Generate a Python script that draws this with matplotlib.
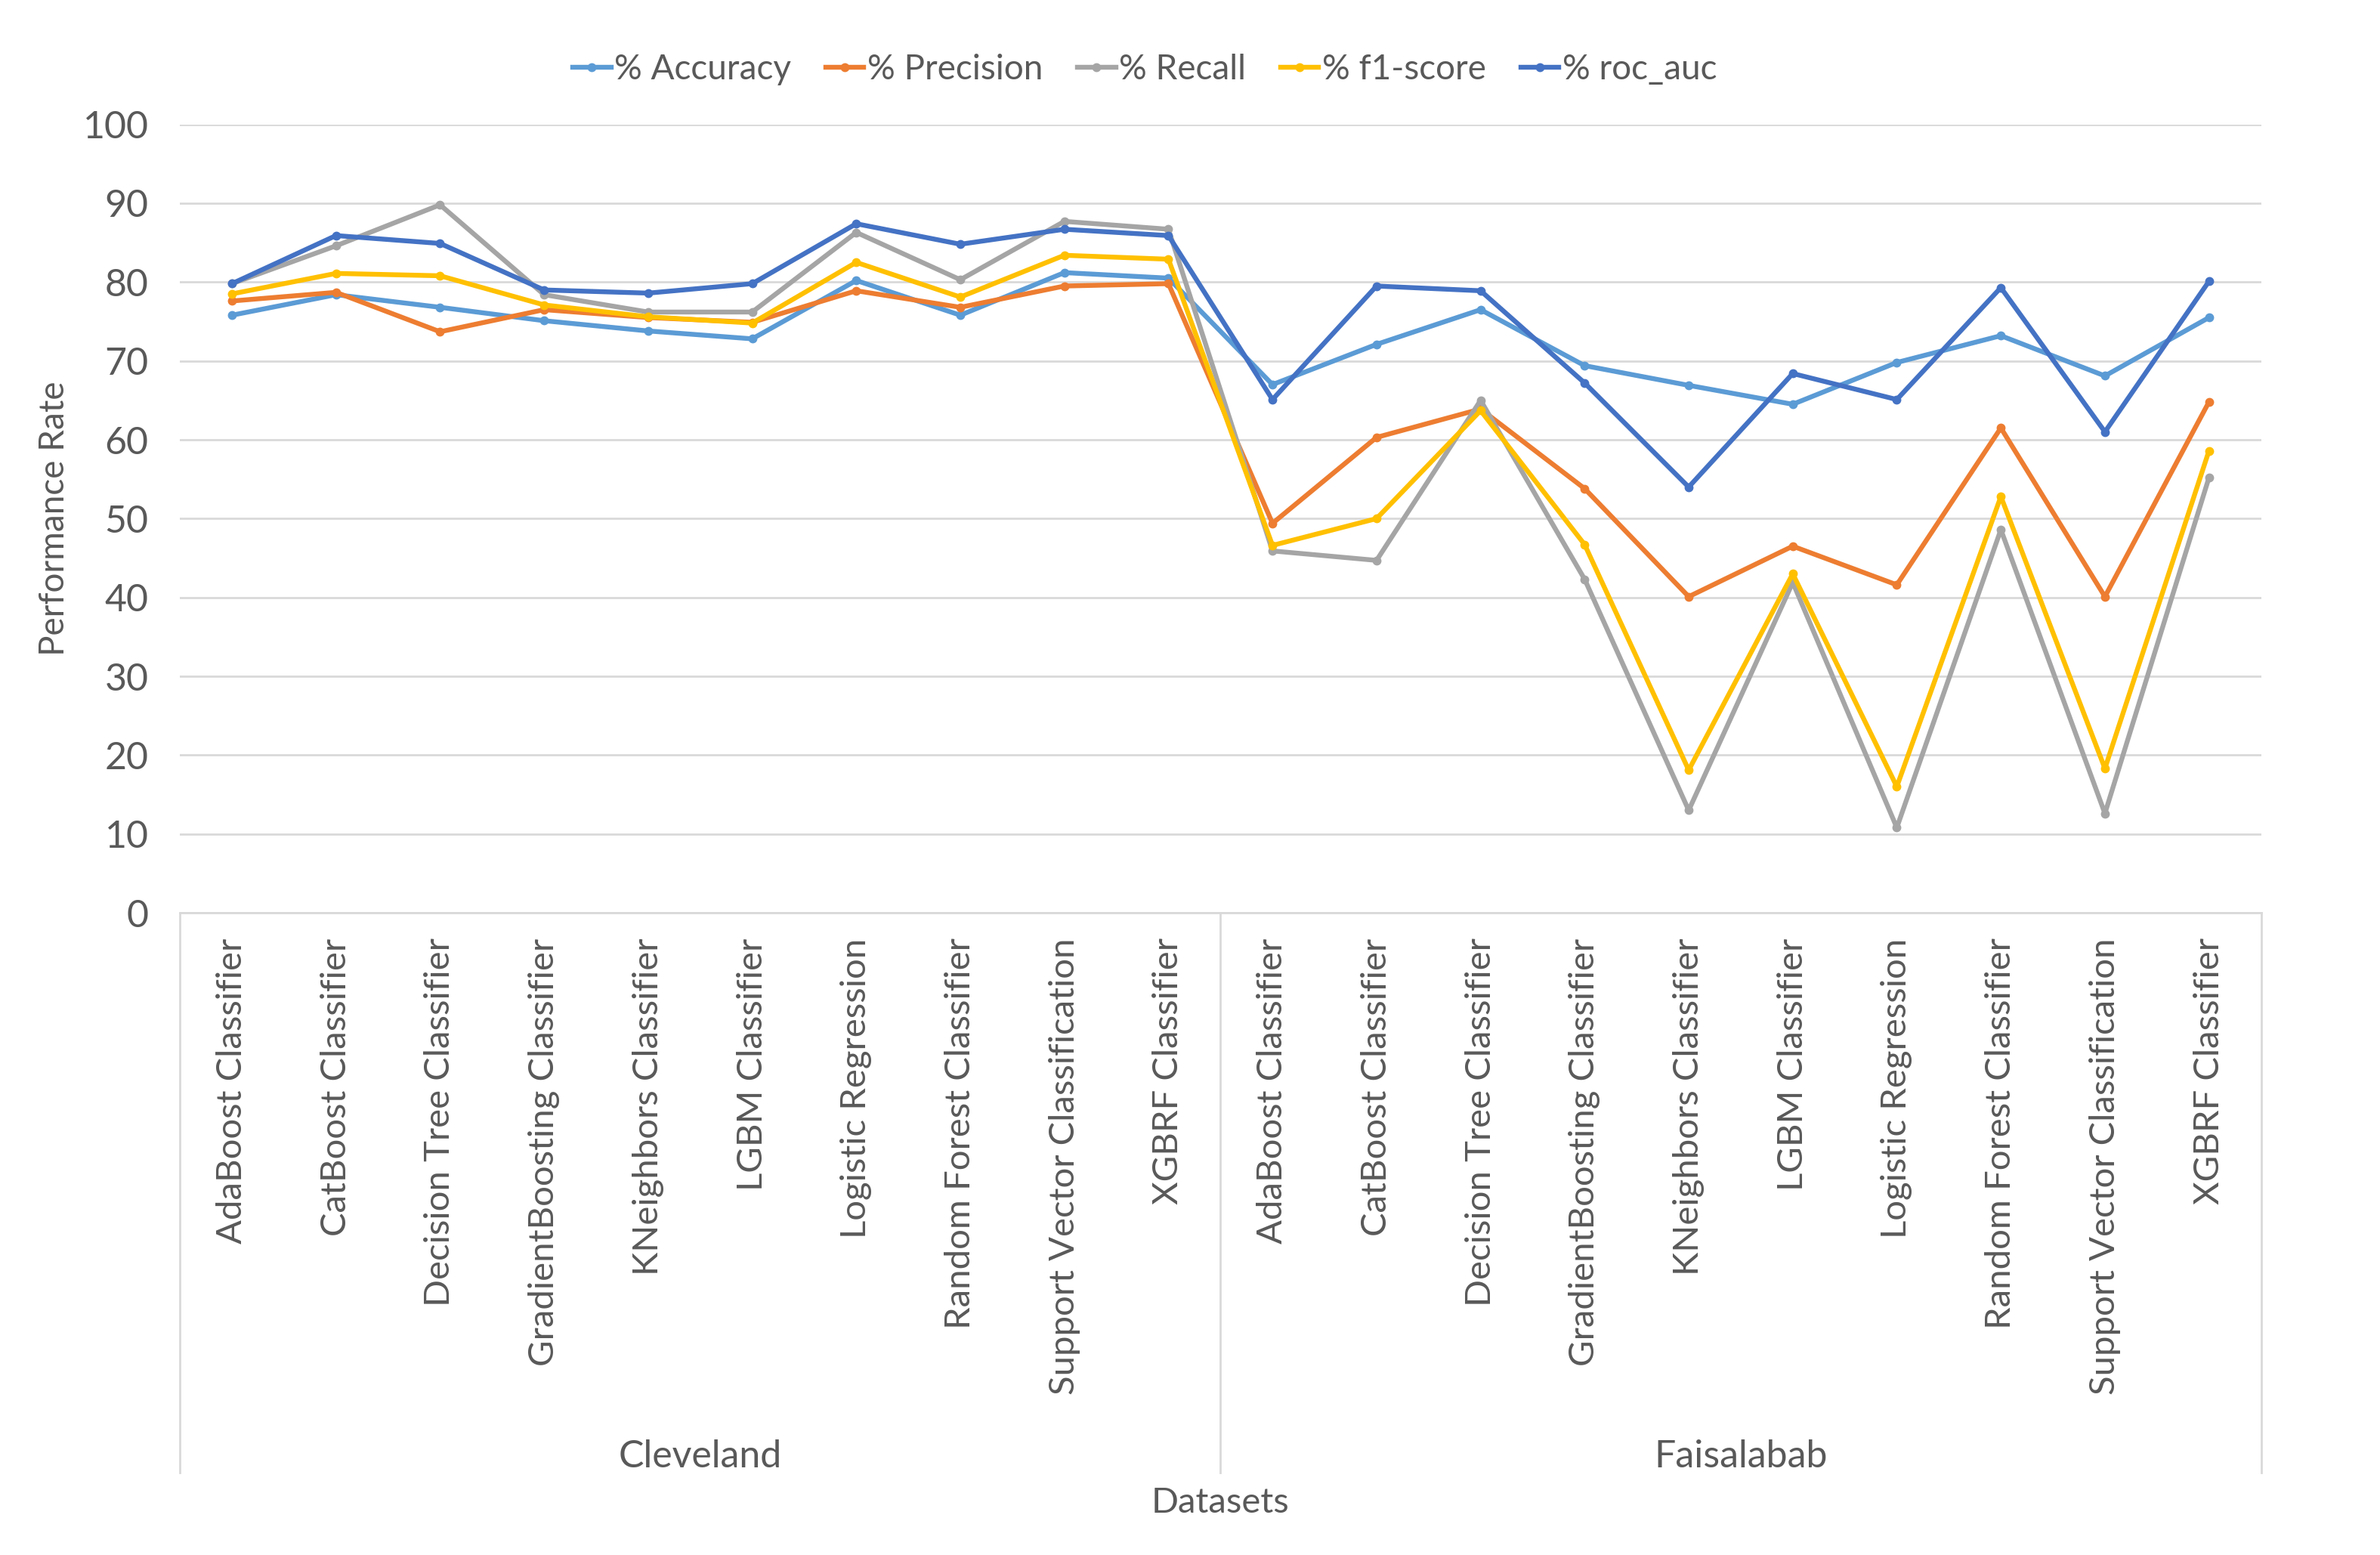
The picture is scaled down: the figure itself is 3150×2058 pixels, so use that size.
import matplotlib
matplotlib.use("Agg")
import matplotlib.pyplot as plt

plt.rcParams["font.family"] = ["Lato", "DejaVu Sans"]

models = [
    "AdaBoost Classifier", "CatBoost Classifier", "Decision Tree Classifier",
    "GradientBoosting Classifier", "KNeighbors Classifier", "LGBM Classifier",
    "Logistic Regression", "Random Forest Classifier",
    "Support Vector Classification", "XGBRF Classifier",
]
datasets = ["Cleveland", "Faisalabab"]
categories = models + models

accuracy = [75.8, 78.4, 76.8, 75.1, 73.8, 72.8, 80.2, 75.8, 81.2, 80.5,
            67.0, 72.1, 76.5, 69.4, 66.9, 64.5, 69.8, 73.2, 68.1, 75.5]
precision = [77.6, 78.7, 73.7, 76.5, 75.5, 74.9, 78.9, 76.8, 79.5, 79.8,
             49.4, 60.3, 63.9, 53.8, 40.1, 46.5, 41.6, 61.5, 40.1, 64.8]
recall = [79.8, 84.6, 89.8, 78.4, 76.2, 76.2, 86.3, 80.3, 87.7, 86.7,
          45.9, 44.7, 65.0, 42.3, 13.0, 41.9, 10.8, 48.6, 12.6, 55.2]
f1_score = [78.5, 81.1, 80.8, 77.1, 75.6, 74.8, 82.5, 78.1, 83.4, 82.9,
            46.6, 50.0, 63.7, 46.7, 18.1, 43.0, 16.0, 52.8, 18.3, 58.6]
roc_auc = [79.8, 85.9, 84.9, 79.0, 78.6, 79.8, 87.4, 84.8, 86.7, 85.9,
           65.1, 79.5, 78.9, 67.2, 54.0, 68.4, 65.1, 79.3, 61.0, 80.1]

series = [
    ("% Accuracy", accuracy, "#5B9BD5"),
    ("% Precision", precision, "#ED7D31"),
    ("% Recall", recall, "#A5A5A5"),
    ("% f1-score", f1_score, "#FFC000"),
    ("% roc_auc", roc_auc, "#4472C4"),
]

text_color = "#595959"
grid_color = "#D9D9D9"

fig = plt.figure(figsize=(31.5, 20.58), dpi=100)
ax = fig.add_axes([0.0756, 0.413, 0.8744, 0.507])

x = list(range(len(categories)))
for label, values, color in series:
    ax.plot(x, values, color=color, linewidth=4.6, marker="o",
            markersize=7.5, label=label, zorder=3)

ax.set_xlim(-0.5, len(categories) - 0.5)
ax.set_ylim(0, 100)
ax.set_yticks(range(0, 101, 10))
ax.yaxis.grid(True, color=grid_color, linewidth=2)
ax.set_axisbelow(True)
for side in ["left", "right", "top"]:
    ax.spines[side].set_visible(False)
ax.spines["bottom"].set_color(grid_color)
ax.spines["bottom"].set_linewidth(2)

ax.set_xticks(x)
ax.set_xticklabels(categories, rotation=90, va="top", ha="center")
ax.tick_params(axis="x", length=0, pad=24, labelsize=34, labelcolor=text_color)
ax.tick_params(axis="y", length=0, pad=30, labelsize=36, labelcolor=text_color)

# dataset groups under the category labels
trans = ax.get_xaxis_transform()
for pos in [-0.5, len(models) - 0.5, len(categories) - 0.5]:
    ax.plot([pos, pos], [0, -0.71], transform=trans, color=grid_color,
            linewidth=2, clip_on=False)
for i, name in enumerate(datasets):
    centre = i * len(models) + (len(models) - 1) / 2
    ax.text(centre, -0.69, name, transform=trans, ha="center", va="center",
            fontsize=36, color=text_color)

ax.text(len(models) - 0.5, -0.748, "Datasets", transform=trans,
        ha="center", va="center", fontsize=34, color=text_color)
ax.set_ylabel("Performance Rate", fontsize=33, color=text_color, labelpad=12)

fig.legend(loc="center", bbox_to_anchor=(0.481, 1 - 92 / 2058), ncol=5,
           frameon=False, fontsize=33, labelcolor=text_color,
           handlelength=1.1, handletextpad=0.1, columnspacing=1.0)

fig.savefig("out.png", dpi=100)
